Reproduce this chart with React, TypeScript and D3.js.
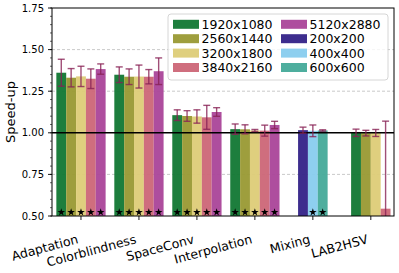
import React from "react";
import * as d3 from "d3";

const categories = ["Adaptation", "Colorblindness", "SpaceConv", "Interpolation", "Mixing", "LAB2HSV"];
const seriesNames = ["1920x1080", "2560x1440", "3200x1800", "3840x2160", "5120x2880", "200x200", "400x400", "600x600"];
const seriesColors = ["#117733", "#999933", "#DDCC77", "#CC6677", "#AA4499", "#332288", "#88CCEE", "#44AA99"];

// speed-up per series, per category (null = not measured)
const v1920 = [1.361, 1.349, 1.106, 1.022, null, 1.0];
const v2560 = [1.331, 1.337, 1.101, 1.021, null, 0.998];
const v3200 = [1.339, 1.338, 1.098, 1.014, null, 0.999];
const v3840 = [1.325, 1.337, 1.093, 1.013, null, 0.544];
const v5120 = [1.383, 1.37, 1.125, 1.047, null, null];
const v200 = [null, null, null, null, 1.016, null];
const v400 = [null, null, null, null, 1.012, null];
const v600 = [null, null, null, null, 1.014, null];

const e1920 = [0.081, 0.047, 0.032, 0.031, null, 0.022];
const e2560 = [0.055, 0.047, 0.032, 0.027, null, 0.017];
const e3200 = [0.061, 0.069, 0.04, 0.006, null, 0.021];
const e3840 = [0.059, 0.043, 0.072, 0.033, null, 0.526];
const e5120 = [0.031, 0.08, 0.026, 0.022, null, null];
const e200 = [null, null, null, null, 0.018, null];
const e400 = [null, null, null, null, 0.035, null];
const e600 = [null, null, null, null, 0.004, null];

// significance stars
const s1920 = [1, 1, 1, 1, 0, 0];
const s2560 = [1, 1, 1, 1, 0, 0];
const s3200 = [1, 1, 1, 1, 0, 0];
const s3840 = [1, 1, 1, 1, 0, 0];
const s5120 = [1, 1, 1, 1, 0, 0];
const s200 = [0, 0, 0, 0, 0, 0];
const s400 = [0, 0, 0, 0, 1, 0];
const s600 = [0, 0, 0, 0, 1, 0];

const yTicks = [0.5, 0.75, 1.0, 1.25, 1.5, 1.75];

const values = [v1920, v2560, v3200, v3840, v5120, v200, v400, v600];
const errors = [e1920, e2560, e3200, e3840, e5120, e200, e400, e600];
const stars = [s1920, s2560, s3200, s3840, s5120, s200, s400, s600];

const W = 399, H = 273;
const m = { left: 52, right: 394, top: 8, bottom: 216 };
const font = "DejaVu Sans, sans-serif";

export default function App() {
  const x = d3.scaleLinear().domain([-0.5, 5.4]).range([m.left, m.right]);
  const y = d3.scaleLinear().domain([0.5, 1.75]).range([m.bottom, m.top]);
  const bw = 0.17;
  const barW = x(bw) - x(0);
  const minor = d3.range(0.5, 1.7501, 0.05);
  const starPath = d3.symbol().type(d3.symbolStar).size(18)() as string;

  const bars: any[] = [];
  categories.forEach((c, ci) => {
    const present = seriesNames.map((_, si) => si).filter(si => values[si][ci] != null);
    present.forEach((si, j) => {
      const cx = x(ci + (j - (present.length - 1) / 2) * bw);
      bars.push({ ci, si, cx, v: values[si][ci] as number, e: errors[si][ci] as number, star: stars[si][ci] });
    });
  });

  return (
    <svg width={W} height={H} style={{ position: "absolute", left: 0, top: 0, background: "#fff" }} fontFamily={font}>
      <defs>
        <clipPath id="plot">
          <rect x={m.left} y={m.top} width={m.right - m.left} height={m.bottom - m.top} />
        </clipPath>
      </defs>
      {/* grid */}
      {[0.75, 1.25, 1.5].map(t => (
        <line key={t} x1={m.left} x2={m.right} y1={y(t)} y2={y(t)} stroke="#bbb" strokeWidth={0.8} strokeDasharray="3,2" />
      ))}
      <g clipPath="url(#plot)">
        {bars.map((b, i) => (
          <rect key={i} x={b.cx - barW / 2} y={y(b.v)} width={barW} height={y(0.5) - y(b.v)}
            fill={seriesColors[b.si]} opacity={0.95} />
        ))}
        <line x1={m.left} x2={m.right} y1={y(1)} y2={y(1)} stroke="#000" strokeWidth={1.5} />
        {bars.map((b, i) => (
          <g key={i} stroke="#882255" strokeOpacity={0.8} strokeWidth={1.4}>
            <line x1={b.cx} x2={b.cx} y1={y(b.v - b.e)} y2={y(b.v + b.e)} />
            <line x1={b.cx - 3.5} x2={b.cx + 3.5} y1={y(b.v - b.e)} y2={y(b.v - b.e)} />
            <line x1={b.cx - 3.5} x2={b.cx + 3.5} y1={y(b.v + b.e)} y2={y(b.v + b.e)} />
          </g>
        ))}
        {bars.filter(b => b.star).map((b, i) => (
          <path key={i} d={starPath} transform={`translate(${b.cx},${y(0.522)})`} fill="#000" />
        ))}
      </g>
      {/* frame */}
      <rect x={m.left} y={m.top} width={m.right - m.left} height={m.bottom - m.top} fill="none" stroke="#000" strokeWidth={1} />
      {/* y axis */}
      {minor.map((t, i) => (
        <line key={i} x1={m.left - 2} x2={m.left} y1={y(t)} y2={y(t)} stroke="#000" strokeWidth={0.6} />
      ))}
      {yTicks.map(t => (
        <g key={t}>
          <line x1={m.left - 4} x2={m.left} y1={y(t)} y2={y(t)} stroke="#000" strokeWidth={0.9} />
          <text x={m.left - 8} y={y(t)} dy="0.36em" textAnchor="end" fontSize={10} fill="#000">{t.toFixed(2)}</text>
        </g>
      ))}
      <text transform={`translate(15,${(m.top + m.bottom) / 2}) rotate(-90)`} textAnchor="middle" fontSize={13} fill="#000">Speed-up</text>
      {/* x axis */}
      {categories.map((c, ci) => (
        <g key={c}>
          <line x1={x(ci)} x2={x(ci)} y1={m.bottom} y2={m.bottom + 4} stroke="#000" strokeWidth={0.9} />
          <text transform={`translate(${x(ci) - 2},${m.bottom + 27}) rotate(-15)`} textAnchor="end" fontSize={12.5} fill="#000">{c}</text>
        </g>
      ))}
      {/* legend */}
      <rect x={168} y={14} width={220} height={66} rx={3} fill="#fff" fillOpacity={0.8} stroke="#ccc" strokeWidth={0.8} />
      {seriesNames.map((n, i) => {
        const col = Math.floor(i / 4), row = i % 4;
        const lx = col === 0 ? 173 : 281;
        const ly = 24.3 + row * 14.4;
        return (
          <g key={n}>
            <rect x={lx} y={ly - 4.5} width={26} height={9} fill={seriesColors[i]} opacity={0.95} />
            <text x={lx + 28.5} y={ly} dy="0.36em" fontSize={12.5} fill="#000">{n}</text>
          </g>
        );
      })}
    </svg>
  );
}
